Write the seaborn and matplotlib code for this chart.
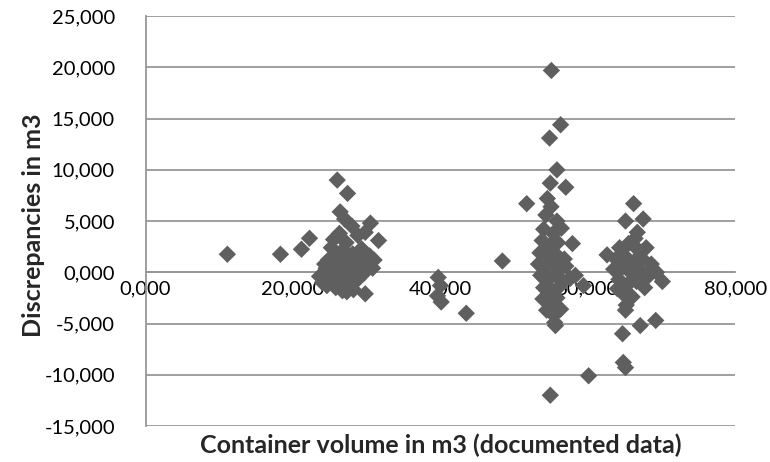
"""Scatter of container volume vs. volume discrepancies (Excel-style look)."""

import matplotlib
matplotlib.use("Agg")
import matplotlib.pyplot as plt
import matplotlib.ticker as mticker
import pandas as pd
import seaborn as sns

# documented container volume (m3) and discrepancy (m3), grouped by cluster
small_vol = [11.10, 18.30, 21.15, 22.24]
small_dis = [1.76, 1.76, 2.25, 3.32]

c20_vol = [26.0, 27.4, 26.4, 27.0, 28.0, 30.5, 31.6, 29.8, 28.8, 25.5, 26.3, 27.2, 25.2, 26.8,
           28.1, 29.3, 30.4, 24.8, 25.7, 26.5, 27.8, 29.0, 30.0, 24.5, 25.3, 26.2, 27.1, 28.4,
           29.6, 30.8, 25.0, 25.9, 26.9, 27.9, 28.9, 25.8, 26.7, 27.6, 29.8, 24.3, 26.0, 27.5,
           28.5, 29.2, 31.0, 23.6, 24.0, 27.3, 24.6, 25.6, 28.2]
c20_dis = [9.0, 7.7, 5.9, 5.2, 4.5, 4.8, 3.1, 3.9, 3.6, 3.2, 3.8, 2.9, 2.4, 2.2,
           1.8, 2.3, 1.6, 1.2, 1.0, 0.7, 0.9, 1.1, 0.7, 0.4, 0.2, -0.2, 0.1, 0.3,
           -0.1, 0.4, -0.6, -0.9, -0.7, -1.1, -0.6, -1.5, -1.8, -1.4, -2.1, 0.8, 1.6, 1.4,
           -0.3, 0.5, 1.2, -0.4, -1.0, -1.9, -1.3, 0.5, -1.7]

c40_vol = [39.7, 40.0, 39.6, 40.1, 43.5, 48.4, 51.7]
c40_dis = [-0.5, -1.3, -2.3, -2.9, -4.0, 1.1, 6.7]

c55_vol = [55.05, 56.3, 54.8, 55.8, 57.0, 54.9, 55.0, 54.3, 55.8, 54.0, 55.3, 56.4, 53.8,
           54.8, 55.9, 53.5, 54.6, 55.6, 56.8, 53.3, 54.2, 55.2, 56.2, 57.0, 53.6, 54.7,
           55.7, 56.6, 54.0, 55.1, 56.1, 53.9, 54.9, 55.8, 54.4, 55.4, 56.3, 55.6, 57.9,
           59.4, 58.3, 57.6, 54.9, 60.1, 54.5, 55.5]
c55_dis = [19.7, 14.4, 13.1, 10.0, 8.3, 8.7, 6.4, 5.6, 5.0, 4.2, 3.8, 4.3, 3.1,
           2.6, 2.9, 1.9, 1.5, 1.8, 1.3, 0.8, 0.4, 0.9, 0.3, 0.6, -0.3, -0.7,
           -0.2, -0.9, -1.5, -1.9, -1.4, -2.6, -3.0, -2.5, -3.7, -4.2, -3.6, -5.2, 2.8,
           -1.3, -0.3, -0.6, -12.0, -10.1, 7.2, -4.9]

c65_vol = [62.6, 64.3, 65.5, 66.8, 67.9, 63.8, 65.0, 66.2, 67.4, 68.6, 63.5, 64.7, 65.9,
           67.1, 68.3, 69.3, 70.1, 64.2, 65.4, 66.6, 67.7, 64.8, 66.0, 65.2, 66.4, 65.1,
           67.1, 69.2, 64.7, 64.8, 65.1, 66.2, 65.1, 67.5, 66.7, 68.0, 64.0]
c65_dis = [1.7, 2.4, 2.8, 2.2, 2.4, 1.3, 1.6, 1.0, 1.3, 0.8, 0.3, 0.5, -0.1,
           0.2, -0.3, 0.0, -0.9, -0.7, -1.2, -0.9, -1.5, -2.1, -2.4, -3.2, 3.3, -3.7,
           -5.2, -4.7, -6.0, -8.8, -9.3, 6.7, 5.0, 5.2, 3.9, -0.3, -1.6]

X_TICKS = [0, 20, 40, 60, 80]
Y_TICKS = [-15, -10, -5, 0, 5, 10, 15, 20, 25]


def comma_fmt(v, _pos=None) -> str:
    return f"{v:.3f}".replace(".", ",")


def main() -> None:
    df = pd.DataFrame({
        "volume": small_vol + c20_vol + c40_vol + c55_vol + c65_vol,
        "discrepancy": small_dis + c20_dis + c40_dis + c55_dis + c65_dis,
    })

    sns.set_style("white")
    plt.rcParams["font.family"] = ["Lato", "DejaVu Sans"]

    fig, ax = plt.subplots(figsize=(7.7, 4.62), dpi=100)
    fig.subplots_adjust(left=0.189, right=0.955, top=0.965, bottom=0.078)

    sns.scatterplot(data=df, x="volume", y="discrepancy", marker="D", s=78,
                    color="#5f5f5f", edgecolor="none", linewidth=0, ax=ax, zorder=3)

    ax.set_xlim(0, 80)
    ax.set_ylim(-15, 25)
    ax.set_xticks(X_TICKS)
    ax.set_yticks(Y_TICKS)
    ax.xaxis.set_major_formatter(mticker.FuncFormatter(comma_fmt))
    ax.yaxis.set_major_formatter(mticker.FuncFormatter(comma_fmt))

    ax.grid(axis="y", color="#979797", linewidth=1.3)
    ax.grid(axis="x", visible=False)
    ax.set_axisbelow(True)

    for side in ("top", "right"):
        ax.spines[side].set_visible(False)
    ax.spines["bottom"].set_position(("data", 0))
    ax.spines["bottom"].set_color("#979797")
    ax.spines["bottom"].set_linewidth(1.3)
    ax.spines["left"].set_color("#979797")
    ax.spines["left"].set_linewidth(1.3)

    ax.tick_params(axis="x", direction="out", length=5, width=1.3, color="#979797",
                   pad=1, labelsize=14.5, labelcolor="black")
    ax.tick_params(axis="y", direction="out", length=5, width=1.3, color="#979797",
                   pad=17, labelsize=14.5, labelcolor="black")

    ax.set_xlabel("Container volume in m3 (documented data)", fontsize=18,
                  fontweight="bold", va="center")
    ax.set_ylabel("Discrepancies in m3", fontsize=18, fontweight="bold", va="center")
    ax.xaxis.set_label_coords(0.5, -0.047)
    ax.yaxis.set_label_coords(-0.19, 0.49)

    fig.savefig("out.png", dpi=100)
    plt.close(fig)


if __name__ == "__main__":
    main()
